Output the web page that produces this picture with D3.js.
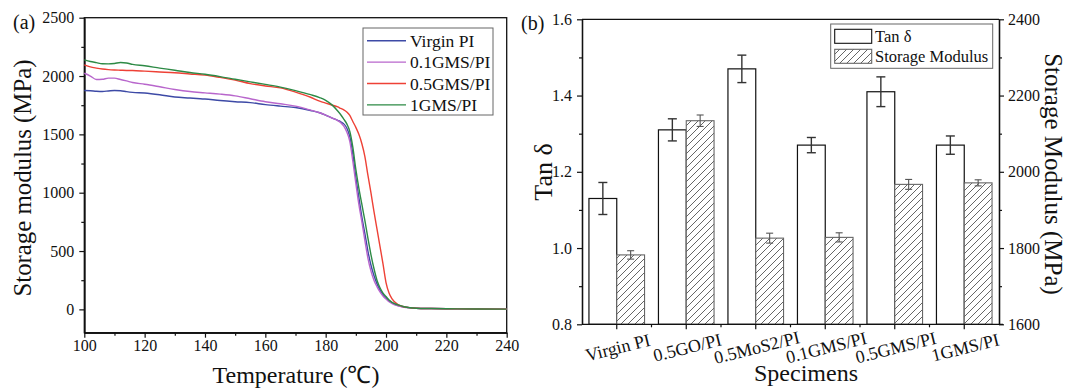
<!DOCTYPE html>
<html>

<head>
  <title>DMA of PI composites</title>
</head>

<body>

  <svg id="svg" width="1069" height="390"></svg>

  <script src="https://d3js.org/d3.v7.min.js"></script>
  <script>
    // (a) storage modulus vs temperature
    const temps = [100, 102, 104, 106, 108, 110, 112, 114, 116, 120, 125, 130, 135, 140, 145, 150, 155, 160, 165, 170,
      175, 178, 180, 182, 184, 185, 186, 187, 188, 189, 190, 191, 192, 193, 194, 195, 196, 197, 198, 199, 200,
      201, 202, 204, 206, 208, 210, 215, 220, 230, 240]
    const virginPI = [1876, 1874, 1870, 1868, 1872, 1876, 1874, 1866, 1860, 1855, 1840, 1820, 1812, 1803, 1790, 1780, 1772, 1755, 1742, 1730,
      1705, 1685, 1665, 1642, 1620, 1608, 1590, 1555, 1480, 1330, 1130, 960, 790, 650, 500, 380, 290, 220, 165, 125, 100,
      75, 55, 32, 20, 14, 10, 7, 5, 3, 2]
    const gms01 = [2024, 2000, 1970, 1972, 1982, 1982, 1970, 1958, 1945, 1930, 1908, 1885, 1867, 1856, 1845, 1830, 1805, 1780, 1762, 1742,
      1708, 1685, 1665, 1642, 1618, 1600, 1570, 1520, 1440, 1270, 1080, 900, 750, 590, 440, 330, 250, 195, 150, 115, 88,
      65, 50, 30, 18, 13, 10, 7, 5, 3, 2]
    const gms05 = [2095, 2078, 2068, 2060, 2055, 2052, 2050, 2048, 2047, 2042, 2035, 2028, 2018, 2008, 1988, 1965, 1935, 1915, 1898, 1862,
      1818, 1785, 1768, 1752, 1735, 1722, 1710, 1692, 1662, 1610, 1560, 1500, 1420, 1310, 1150, 1000, 840, 690, 540, 390, 230,
      140, 90, 40, 22, 14, 10, 7, 5, 3, 2]
    const gms1 = [2138, 2125, 2115, 2105, 2104, 2108, 2116, 2112, 2100, 2088, 2068, 2050, 2030, 2015, 1995, 1972, 1950, 1928, 1905, 1875,
      1840, 1815, 1792, 1755, 1700, 1668, 1630, 1590, 1525, 1390, 1200, 1040, 900, 760, 610, 470, 350, 250, 185, 140, 110,
      80, 60, 38, 22, 14, 10, 7, 5, 3, 2]
    const seriesNames = ['Virgin PI', '0.1GMS/PI', '0.5GMS/PI', '1GMS/PI']
    const seriesValues = [virginPI, gms01, gms05, gms1]
    const seriesColors = ['#3d4aa6', '#b866cc', '#ee4136', '#2d8a45']

    // (b) tan delta and storage modulus per specimen
    const specimens = ['Virgin PI', '0.5GO/PI', '0.5MoS2/PI', '0.1GMS/PI', '0.5GMS/PI', '1GMS/PI']
    const tanDelta = [1.13, 1.31, 1.47, 1.27, 1.41, 1.27]
    const tanDeltaErr = [0.042, 0.029, 0.036, 0.02, 0.039, 0.024]
    const storageModulus = [1782, 2134, 1826, 1828, 1967, 1971]
    const storageModulusErr = [11, 15, 13, 12, 13, 8]

    const FONT = 'Liberation Serif, Times New Roman, serif'
    const svg = d3.select('#svg')

    function styleAxis(g, size) {
      g.attr('font-family', FONT).attr('font-size', size)
      g.selectAll('path').attr('stroke', '#111').attr('stroke-width', 1.3)
      g.selectAll('line').attr('stroke', '#111').attr('stroke-width', 1.2)
      g.selectAll('text').attr('fill', '#111')
      return g
    }

    // ---------- panel (a) ----------
    const ax = d3.scaleLinear().domain([100, 240]).range([84.3, 506.7])
    const ay = d3.scaleLinear().domain([-200, 2500]).range([332.7, 17.7])

    svg.append('rect')
      .attr('x', ax.range()[0]).attr('y', ay.range()[1])
      .attr('width', ax.range()[1] - ax.range()[0])
      .attr('height', ay.range()[0] - ay.range()[1])
      .attr('fill', 'none').attr('stroke', '#111').attr('stroke-width', 1.3)

    svg.append('g').attr('transform', 'translate(0,332.7)')
      .call(d3.axisBottom(ax).tickValues(d3.range(110, 240, 20)).tickSize(3).tickFormat('').tickSizeOuter(0))
      .call(styleAxis, 16)
    svg.append('g').attr('transform', 'translate(0,332.7)')
      .call(d3.axisBottom(ax).tickValues(d3.range(100, 241, 20)).tickSize(5).tickPadding(2)
        .tickFormat(d3.format('d')).tickSizeOuter(0))
      .call(styleAxis, 16)
    svg.append('g').attr('transform', 'translate(84.3,0)')
      .call(d3.axisLeft(ay).tickValues(d3.range(-250, 2500, 500).filter(v => v > -200)).tickSize(3).tickFormat('').tickSizeOuter(0))
      .call(styleAxis, 16)
    svg.append('g').attr('transform', 'translate(84.3,0)')
      .call(d3.axisLeft(ay).tickValues(d3.range(0, 2501, 500)).tickSize(5).tickPadding(5)
        .tickFormat(d3.format('d')).tickSizeOuter(0))
      .call(styleAxis, 16)

    const linegen = d3.line()
      .x((d, i) => ax(temps[i]))
      .y(d => ay(d))
      .curve(d3.curveMonotoneX)

    svg.append('g').selectAll('path')
      .data(seriesValues)
      .join('path')
      .attr('d', d => linegen(d))
      .attr('fill', 'none')
      .attr('stroke', (d, i) => seriesColors[i])
      .attr('stroke-width', 1.4)

    // legend (a)
    const legA = svg.append('g')
    legA.append('rect')
      .attr('x', 363).attr('y', 28).attr('width', 130).attr('height', 87)
      .attr('fill', 'white').attr('stroke', '#666').attr('stroke-width', 1)
    seriesNames.forEach((name, i) => {
      const yy = 40.7 + i * 21.4
      legA.append('line').attr('x1', 367).attr('x2', 406).attr('y1', yy).attr('y2', yy)
        .attr('stroke', seriesColors[i]).attr('stroke-width', 1.4)
      legA.append('text').attr('x', 410).attr('y', yy + 6)
        .attr('font-family', FONT).attr('font-size', 17.5).attr('fill', '#111')
        .text(name)
    })

    svg.append('text').attr('x', 13).attr('y', 29)
      .attr('font-family', FONT).attr('font-size', 20).attr('fill', '#111').text('(a)')
    svg.append('text')
      .attr('transform', 'translate(31,178) rotate(-90)')
      .attr('text-anchor', 'middle')
      .attr('font-family', FONT).attr('font-size', 24.8).attr('fill', '#111')
      .text('Storage modulus (MPa)')
    svg.append('text').attr('x', 296).attr('y', 383)
      .attr('text-anchor', 'middle')
      .attr('font-family', FONT).attr('font-size', 24).attr('fill', '#111')
      .text('Temperature (℃)')

    // ---------- panel (b) ----------
    const bx = d3.scaleBand().domain(specimens).range([582, 999]).paddingInner(0.2).paddingOuter(0.1)
    const yTan = d3.scaleLinear().domain([0.8, 1.6]).range([324.3, 19.3])
    const ySM = d3.scaleLinear().domain([1600, 2400]).range([324.3, 19.3])
    const bw = bx.bandwidth() / 2

    const defs = svg.append('defs')
    const pat = defs.append('pattern')
      .attr('id', 'hatch').attr('patternUnits', 'userSpaceOnUse')
      .attr('width', 7).attr('height', 7)
    pat.append('rect').attr('width', 7).attr('height', 7).attr('fill', 'white')
    pat.append('path')
      .attr('d', 'M-1,8 L8,-1 M-2,1 L1,-2 M6,9 L9,6')
      .attr('stroke', '#555').attr('stroke-width', 0.9)

    // top frame line
    svg.append('line').attr('x1', 582).attr('x2', 999).attr('y1', 19.3).attr('y2', 19.3)
      .attr('stroke', '#111').attr('stroke-width', 1.3)

    const bars = svg.append('g')
    bars.selectAll('rect.tan')
      .data(specimens)
      .join('rect').attr('class', 'tan')
      .attr('x', d => bx(d)).attr('width', bw)
      .attr('y', (d, i) => yTan(tanDelta[i]))
      .attr('height', (d, i) => yTan(0.8) - yTan(tanDelta[i]))
      .attr('fill', 'white').attr('stroke', '#111').attr('stroke-width', 1.2)
    bars.selectAll('rect.sm')
      .data(specimens)
      .join('rect').attr('class', 'sm')
      .attr('x', d => bx(d) + bw).attr('width', bw)
      .attr('y', (d, i) => ySM(storageModulus[i]))
      .attr('height', (d, i) => ySM(1600) - ySM(storageModulus[i]))
      .attr('fill', 'url(#hatch)').attr('stroke', '#666').attr('stroke-width', 1.1)

    // error bars
    function errorBars(vals, errs, scale, xOff, cap, sw, col) {
      const g = svg.append('g').attr('stroke', col).attr('stroke-width', sw)
      specimens.forEach((s, i) => {
        const cx = bx(s) + xOff
        const y1 = scale(vals[i] + errs[i])
        const y2 = scale(vals[i] - errs[i])
        g.append('line').attr('x1', cx).attr('x2', cx).attr('y1', y1).attr('y2', y2)
        g.append('line').attr('x1', cx - cap).attr('x2', cx + cap).attr('y1', y1).attr('y2', y1)
        g.append('line').attr('x1', cx - cap).attr('x2', cx + cap).attr('y1', y2).attr('y2', y2)
      })
    }
    errorBars(tanDelta, tanDeltaErr, yTan, bw / 2, 4.5, 1.4, '#333')
    errorBars(storageModulus, storageModulusErr, ySM, bw * 1.5, 3.5, 1.1, '#555')

    // axes (b)
    const bnd = specimens.slice(1).map(s => bx(s) - bx.step() * bx.paddingInner() / 2)
    const bottom = svg.append('g').attr('transform', 'translate(0,324.3)')
    bottom.append('line').attr('x1', 582).attr('x2', 1003)
      .attr('stroke', '#111').attr('stroke-width', 1.3)
    bottom.selectAll('line.maj')
      .data(specimens)
      .join('line').attr('class', 'maj')
      .attr('x1', d => bx(d) + bw).attr('x2', d => bx(d) + bw)
      .attr('y1', 0).attr('y2', 5)
      .attr('stroke', '#111').attr('stroke-width', 1.2)
    bottom.selectAll('line.min')
      .data(bnd)
      .join('line').attr('class', 'min')
      .attr('x1', d => d).attr('x2', d => d)
      .attr('y1', 0).attr('y2', 3)
      .attr('stroke', '#111').attr('stroke-width', 1.2)
    bottom.selectAll('text')
      .data(specimens)
      .join('text')
      .attr('transform', d => `translate(${bx(d) + bw + 1},${23}) rotate(-14)`)
      .attr('text-anchor', 'middle').attr('dy', '0.35em')
      .attr('font-family', FONT).attr('font-size', 18).attr('fill', '#111')
      .text(d => d)

    svg.append('g').attr('transform', 'translate(582,0)')
      .call(d3.axisLeft(yTan).tickValues([0.9, 1.1, 1.3, 1.5]).tickSize(3).tickFormat('').tickSizeOuter(0))
      .call(styleAxis, 16)
    svg.append('g').attr('transform', 'translate(582,0)')
      .call(d3.axisLeft(yTan).tickValues([0.8, 1.0, 1.2, 1.4, 1.6]).tickSize(5).tickPadding(5)
        .tickFormat(d3.format('.1f')).tickSizeOuter(0))
      .call(styleAxis, 16)
    svg.append('g').attr('transform', 'translate(999,0)')
      .call(d3.axisRight(ySM).tickValues([1700, 1900, 2100, 2300]).tickSize(3).tickFormat('').tickSizeOuter(0))
      .call(styleAxis, 16)
    svg.append('g').attr('transform', 'translate(999,0)')
      .call(d3.axisRight(ySM).tickValues(d3.range(1600, 2401, 200)).tickSize(5).tickPadding(4)
        .tickFormat(d3.format('d')).tickSizeOuter(0))
      .call(styleAxis, 16)

    // legend (b)
    const legB = svg.append('g')
    legB.append('rect')
      .attr('x', 830.7).attr('y', 24).attr('width', 162).attr('height', 44.3)
      .attr('fill', 'white').attr('stroke', '#666').attr('stroke-width', 1)
    legB.append('rect').attr('x', 834.7).attr('y', 29.3).attr('width', 37).attr('height', 14)
      .attr('fill', 'white').attr('stroke', '#111').attr('stroke-width', 1.1)
    legB.append('rect').attr('x', 834.7).attr('y', 49.3).attr('width', 37).attr('height', 14)
      .attr('fill', 'url(#hatch)').attr('stroke', '#666').attr('stroke-width', 1.1)
    legB.append('text').attr('x', 875).attr('y', 41.7)
      .attr('font-family', FONT).attr('font-size', 16.5).attr('fill', '#111').text('Tan δ')
    legB.append('text').attr('x', 875).attr('y', 61.7)
      .attr('font-family', FONT).attr('font-size', 16.5).attr('fill', '#111').text('Storage Modulus')

    svg.append('text').attr('x', 521).attr('y', 30)
      .attr('font-family', FONT).attr('font-size', 20).attr('fill', '#111').text('(b)')
    svg.append('text')
      .attr('transform', 'translate(552,172) rotate(-90)')
      .attr('text-anchor', 'middle')
      .attr('font-family', FONT).attr('font-size', 26).attr('fill', '#111')
      .text('Tan δ')
    svg.append('text')
      .attr('transform', 'translate(1045,174) rotate(90)')
      .attr('text-anchor', 'middle')
      .attr('font-family', FONT).attr('font-size', 25).attr('fill', '#111')
      .text('Storage Modulus (MPa)')
    svg.append('text').attr('x', 806).attr('y', 381)
      .attr('text-anchor', 'middle')
      .attr('font-family', FONT).attr('font-size', 24).attr('fill', '#111')
      .text('Specimens')
  </script>
</body>

<style>
  body,
  html {
    margin: 0;
    padding: 0;
    background: white;
  }
</style>

</html>
